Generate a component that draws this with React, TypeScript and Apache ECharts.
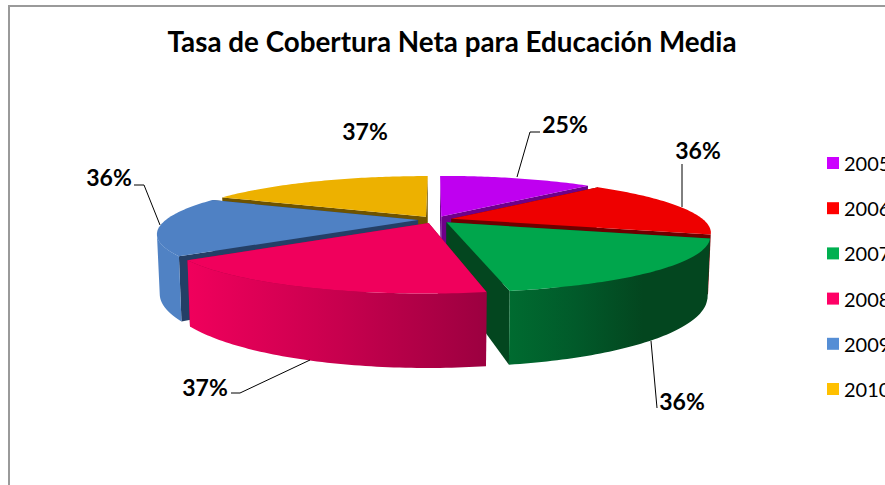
import React, { useEffect, useRef } from "react";
import * as echarts from "echarts";

const TITLE = "Tasa de Cobertura Neta para Educación Media";
const YEARS = ["2005", "2006", "2007", "2008", "2009", "2010"];
const VALUES = [25.4, 36, 36.4, 36.6, 35.6, 37.4];

const LEGEND_COLORS = ["#cc00ff", "#ff0000", "#00b050", "#ff0066", "#558ed5", "#ffc000"];
const TOP_COLORS = ["#bf00f0", "#ee0000", "#00a64c", "#f0005c", "#4f81c4", "#edb100"];
const WALL_COLORS = ["#6e008a", "#6e0000", "#03461f", "#9c0040", "#243f66", "#6e5300"];
const SIDE_STOPS: string[][] = [
  ["#6e008a", "#6e008a"],
  ["#a00000", "#a00000"],
  ["#006b30", "#015a2a", "#03461f", "#03461f"],
  ["#f0005c", "#c8004e", "#9c0040"],
  ["#5082c4", "#5082c4", "#5082c4"],
  ["#a07800", "#a07800"],
];
// painter's order: far slices first
const DRAW_ORDER = [0, 5, 1, 4, 2, 3];

const LABEL_POS = [
  [565, 124],
  [698, 150],
  [682, 401],
  [205, 387],
  [109, 177],
  [365, 131],
];
const LEADERS: number[][][] = [
  [[517, 177], [530, 132], [540, 132]],
  [[682, 164], [682, 207]],
  [[651, 341], [657, 408]],
  [[310, 360], [240, 393], [231, 393]],
  [[160, 225], [144, 185], [134, 185]],
  [],
];

const CX = 435, CY = 219.7, R = 252, K = 0.2054, P = 0.24, H = 56, EXPLODE = 17, BOTTOM_SCALE = 0.99;
const VISIBLE_FROM = 105, VISIBLE_TO = 255;
const rad = (d: number) => (d * Math.PI) / 180;

function project(theta: number, mid: number, radius: number, bottom: boolean) {
  const X = EXPLODE * Math.sin(rad(mid)) + radius * Math.sin(rad(theta));
  const Y = EXPLODE * Math.cos(rad(mid)) + radius * Math.cos(rad(theta));
  const w = 1 + (P * Y) / R;
  const s = bottom ? BOTTOM_SCALE : 1;
  return [CX + (X / w) * s, CY - (K * Y * s) / w + (bottom ? H / w : 0)];
}
function arc(a: number, b: number, mid: number, bottom: boolean) {
  const pts: number[][] = [];
  const n = Math.max(2, Math.ceil(Math.abs(b - a)));
  for (let i = 0; i <= n; i++) pts.push(project(a + ((b - a) * i) / n, mid, R, bottom));
  return pts;
}
const total = VALUES.reduce((s, v) => s + v, 0);

function sliceElement(idx: number, value: number) {
  const before = VALUES.slice(0, idx).reduce((s, v) => s + v, 0);
  const a = (before / total) * 360;
  const b = ((before + value) / total) * 360;
  const mid = (a + b) / 2;
  const children: any[] = [];
  const apexT = project(0, mid, 0, false);
  const apexB = project(0, mid, 0, true);
  [a, b].forEach((t) => {
    const eT = project(t, mid, R, false);
    const eB = project(t, mid, R, true);
    children.push({
      type: "polygon",
      shape: { points: [apexT, eT, eB, apexB] },
      style: { fill: WALL_COLORS[idx] },
    });
  });
  const from = Math.max(a, VISIBLE_FROM);
  const to = Math.min(b, VISIBLE_TO);
  if (to > from) {
    const top = arc(from, to, mid, false);
    const bot = arc(from, to, mid, true).reverse();
    const stops = SIDE_STOPS[idx];
    children.push({
      type: "polygon",
      shape: { points: [...top, ...bot] },
      style: {
        fill: new echarts.graphic.LinearGradient(
          0, 0, 1, 0,
          stops.map((c, i) => ({ offset: i / (stops.length - 1), color: c }))
        ),
      },
    });
  }
  children.push({
    type: "polygon",
    shape: { points: [apexT, ...arc(a, b, mid, false)] },
    style: { fill: TOP_COLORS[idx] },
  });
  if (LEADERS[idx].length) {
    children.push({
      type: "polyline",
      z2: 50,
      shape: { points: LEADERS[idx] },
      style: { stroke: "#000", lineWidth: 1, fill: "none" },
    });
  }
  children.push({
    type: "text",
    z2: 60,
    x: LABEL_POS[idx][0],
    y: LABEL_POS[idx][1],
    style: {
      text: `${Math.round(value)}%`,
      fill: "#000",
      font: "bold 23px Lato",
      align: "center",
      verticalAlign: "middle",
    },
  });
  return { type: "group", children };
}

export default function App() {
  const ref = useRef<HTMLDivElement>(null);
  useEffect(() => {
    const chart = echarts.init(ref.current!, null, { renderer: "svg" });
    chart.setOption({
      animation: false,
      backgroundColor: "#ffffff",
      title: {
        text: TITLE,
        left: 447,
        top: 22,
        textAlign: "center",
        textStyle: { fontFamily: "Lato", fontWeight: "bold", fontSize: 27.8, color: "#000" },
      },
      legend: {
        orient: "vertical",
        left: 827,
        top: 153,
        itemWidth: 12,
        itemHeight: 12,
        itemGap: 25.2,
        padding: 0,
        icon: "rect",
        data: YEARS,
        textStyle: { fontFamily: "Lato", fontSize: 20, color: "#000" },
        itemStyle: { borderWidth: 0 },
        selectedMode: false,
      },
      graphic: [
        {
          type: "polyline",
          silent: true,
          shape: { points: [[9, 490], [9, 6], [890, 6]] },
          style: { stroke: "#9a9a9a", lineWidth: 2, fill: "none" },
        },
      ],
      series: DRAW_ORDER.map((idx) => ({
        type: "custom",
        name: YEARS[idx],
        coordinateSystem: "none",
        silent: true,
        itemStyle: { color: LEGEND_COLORS[idx] },
        data: [[VALUES[idx]]],
        renderItem: (_p: any, api: any) => sliceElement(idx, api.value(0)),
      })),
    });
    return () => chart.dispose();
  }, []);
  return <div ref={ref} style={{ position: "absolute", left: 0, top: 0, width: 885, height: 485 }} />;
}
